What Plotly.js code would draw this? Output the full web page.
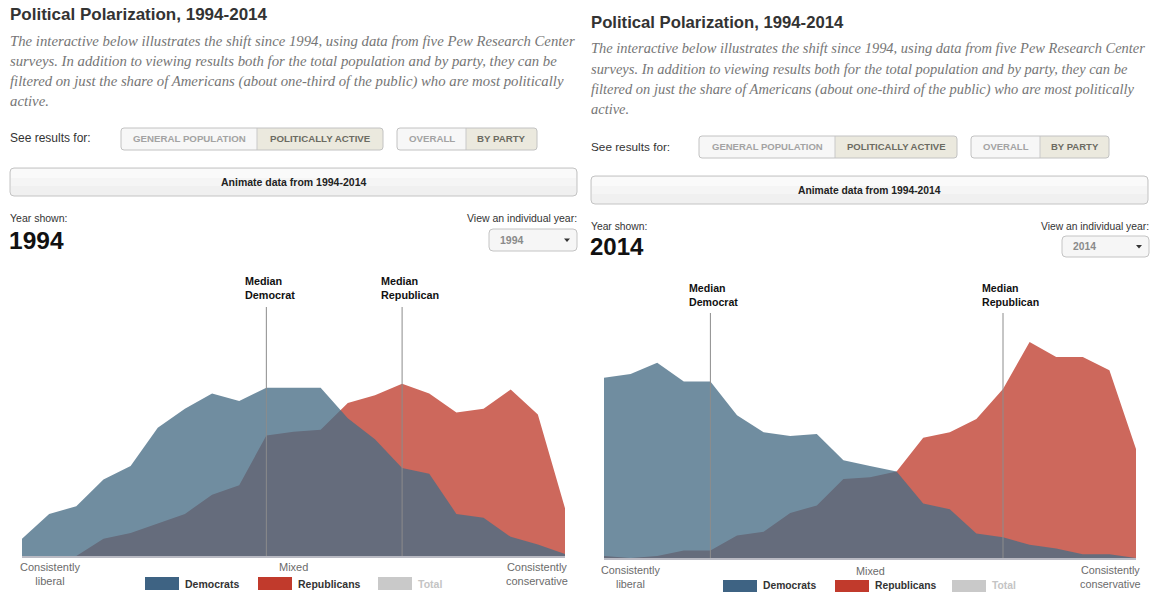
<!DOCTYPE html>
<html>
<head>
<meta charset="utf-8">
<script src="https://cdn.plot.ly/plotly-3.0.1.min.js"></script>
<style>
  html, body { margin: 0; padding: 0; background: #ffffff; }
  #chart { width: 1151px; height: 592px; }
</style>
</head>
<body>
<div id="chart"></div>
<script>
// ---------------- DATA ----------------
// Ideological consistency scale, -10 (consistently liberal) to +10 (consistently conservative)
const scalePoints = [-10,-9,-8,-7,-6,-5,-4,-3,-2,-1,0,1,2,3,4,5,6,7,8,9,10];

// Share (%) of politically active Democrats / Republicans at each scale point
const democrats1994   = [0.9,2.2,2.6,4.0,4.7,6.7,7.7,8.5,8.1,8.8,8.8,8.8,7.2,6.1,4.6,4.3,2.2,2.0,1.0,0.6,0.1];
const republicans1994 = [0.0,0.0,0.0,0.9,1.2,1.7,2.2,3.2,3.7,6.3,6.5,6.6,8.0,8.4,9.0,8.5,7.5,7.7,8.7,7.4,2.5];
const democrats2014   = [9.6,9.8,10.4,9.4,9.4,7.6,6.7,6.5,6.6,5.2,4.9,4.6,2.9,2.6,1.3,1.1,0.7,0.5,0.2,0.2,0.0];
const republicans2014 = [0.1,0.0,0.1,0.4,0.4,1.2,1.4,2.4,2.8,4.2,4.3,4.6,6.4,6.7,7.4,9.0,11.5,10.7,10.7,10.0,5.8];

// Median positions on the scale [Democrat, Republican]
const medians1994 = [-1, 4];
const medians2014 = [-6, 5];
const medianLabels = ['Median<br>Democrat', 'Median<br>Republican'];

const years = ['1994', '2014'];
const axisLabels = ['Consistently<br>liberal', 'Mixed', 'Consistently<br>conservative'];
const legendLabels = ['Democrats', 'Republicans', 'Total'];

const titleText = 'Political Polarization, 1994-2014';
const introLines = [
  'The interactive below illustrates the shift since 1994, using data from five Pew Research Center',
  'surveys. In addition to viewing results both for the total population and by party, they can be',
  'filtered on just the share of Americans (about one-third of the public) who are most politically',
  'active.'
];
const segmentLabelsA = ['GENERAL POPULATION', 'POLITICALLY ACTIVE'];
const segmentLabelsB = ['OVERALL', 'BY PARTY'];
const seeResultsText = 'See results for:';
const animateText = 'Animate data from 1994-2014';
const yearShownText = 'Year shown:';
const viewYearText = 'View an individual year:';

// ---------------- LAYOUT HELPERS ----------------
const W = 1151, H = 592;
const PX = x => x / W;
const PY = y => 1 - y / H;

function rr(x0, y0, x1, y1, r) {
  // r = [tl, tr, br, bl] in pixels
  const [tl, tr, br, bl] = r;
  const p = (x, y) => PX(x) + ',' + PY(y);
  return 'M' + p(x0 + tl, y0) +
    ' L' + p(x1 - tr, y0) + ' Q' + p(x1, y0) + ' ' + p(x1, y0 + tr) +
    ' L' + p(x1, y1 - br) + ' Q' + p(x1, y1) + ' ' + p(x1 - br, y1) +
    ' L' + p(x0 + bl, y1) + ' Q' + p(x0, y1) + ' ' + p(x0, y1 - bl) +
    ' L' + p(x0, y0 + tl) + ' Q' + p(x0, y0) + ' ' + p(x0 + tl, y0) + ' Z';
}

const SANS = 'Liberation Sans, Arial, sans-serif';
const SERIF = 'Liberation Serif, Times New Roman, serif';

const shapes = [];
const annotations = [];

function txt(x, y, text, opts) {
  const o = Object.assign({size: 11, color: '#333', weight: 'normal', family: SANS,
    xanchor: 'left', yanchor: 'middle', align: 'left', style: 'normal'}, opts || {});
  const shift = o.xanchor === 'left' ? -2 : (o.xanchor === 'right' ? 2 : 0);
  annotations.push({
    xref: 'paper', yref: 'paper',
    x: PX(x + shift), y: PY(y),
    text: text, showarrow: false,
    xanchor: o.xanchor, yanchor: o.yanchor, align: o.align,
    font: {family: o.family, size: o.size, color: o.color, weight: o.weight, style: o.style}
  });
}
function pathShape(path, fill, line, layer) {
  shapes.push({type: 'path', xref: 'paper', yref: 'paper', path: path, fillcolor: fill,
    line: line || {width: 0}, layer: layer || 'below'});
}

// Panel geometry (pixel positions of the two screenshots)
const panels = [
  { year: years[0], dem: democrats1994, rep: republicans1994, med: medians1994,
    left: 10, right: 577, dy: 0, xa: 'x', ya: 'y', scale: 1,
    seg: [121, 257, 383, 397, 466, 537], segY: [128, 150],
    anim: [168, 196], drop: [489, 229, 577, 251],
    plot: [22, 565, 556, 300], pxPerUnit: 19.13, medTop: 307, medLab: 287.5,
    labY: [573.5, 567], labX: [50, 293, 537],
    leg: [145, 258, 378], legY: [577, 590], legTxt: 583.5 },
  { year: years[1], dem: democrats2014, rep: republicans2014, med: medians2014,
    left: 591, right: 1148, dy: 8, xa: 'x2', ya: 'y2', scale: 0.982,
    seg: [699, 835, 957, 971, 1040, 1109], segY: [136, 158],
    anim: [176, 204], drop: [1062, 236, 1149, 257],
    plot: [604, 1136, 558, 302], pxPerUnit: 18.78, medTop: 313, medLab: 294.5,
    labY: [577, 571], labX: [630, 870, 1110],
    leg: [723, 835, 952], legY: [580, 592], legTxt: 585.5 }
];

const data = [];
const layout = {
  width: W, height: H, autosize: false,
  margin: {l: 0, r: 0, t: 0, b: 0, pad: 0},
  paper_bgcolor: '#ffffff', plot_bgcolor: 'rgba(0,0,0,0)',
  showlegend: false, hovermode: false,
  font: {family: SANS}
};

panels.forEach((p, i) => {
  const dy = p.dy, s = p.scale;
  // Title
  txt(p.left, 14 + dy, titleText, {size: 17 * s, weight: 'bold', color: '#333'});
  // Intro paragraph
  introLines.forEach((line, k) => {
    txt(p.left, 40.5 + dy + k * 20.3, line, {family: SERIF, style: 'italic', size: 14.75 * s, color: '#767676'});
  });
  // See results for
  txt(p.left, 138 + dy, seeResultsText, {size: 12 * s, color: '#333'});
  // Segmented buttons
  const [a0, a1, a2, b0, b1, b2] = p.seg;
  const [sy0, sy1] = p.segY;
  const rad = 3;
  [[a0, a1, a2, segmentLabelsA], [b0, b1, b2, segmentLabelsB]].forEach(([x0, xm, x1, labels]) => {
    pathShape(rr(x0, sy0, xm, sy1, [rad, 0, 0, rad]), '#f7f7f7');
    pathShape(rr(xm, sy0, x1, sy1, [0, rad, rad, 0]), '#ebe9de');
    shapes.push({type: 'line', x0: PX(xm), x1: PX(xm), y0: PY(sy0), y1: PY(sy1), xref: 'paper', yref: 'paper', line: {color: '#c9c9c9', width: 1}, layer: 'below'});
    pathShape(rr(x0, sy0, x1, sy1, [rad, rad, rad, rad]), 'rgba(0,0,0,0)', {color: '#c2c2c2', width: 1});
    txt((x0 + xm) / 2, (sy0 + sy1) / 2, labels[0], {size: 9.7 * s, weight: 'bold', color: '#a3a3a3', xanchor: 'center', align: 'center'});
    txt((xm + x1) / 2, (sy0 + sy1) / 2, labels[1], {size: 9.7 * s, weight: 'bold', color: '#6b6b62', xanchor: 'center', align: 'center'});
  });
  // Animate button (soft vertical gradient approximated with bands)
  pathShape(rr(p.left, p.anim[0], p.right, p.anim[1], [4, 4, 4, 4]), '#f0f0f0', {color: '#c4c4c4', width: 1});
  pathShape(rr(p.left + 1, p.anim[0] + 1, p.right - 1, p.anim[0] + 18, [3, 3, 0, 0]), '#f5f5f5');
  pathShape(rr(p.left + 1, p.anim[0] + 1, p.right - 1, p.anim[0] + 10, [3, 3, 0, 0]), '#fafafa');
  txt((p.left + p.right) / 2, (p.anim[0] + p.anim[1]) / 2, animateText, {size: 10.5 * s, weight: 'bold', color: '#222', xanchor: 'center', align: 'center'});
  // Year shown
  txt(p.left, 218 + dy, yearShownText, {size: 10.5 * s, color: '#333'});
  txt(p.left - 1, 240 + (i ? 6 : 0), p.year, {size: 24.5 * s, weight: 'bold', color: '#111'});
  // View an individual year + dropdown
  txt(p.drop[2], 218 + dy, viewYearText, {size: 10.5 * s, color: '#333', xanchor: 'right', align: 'right'});
  const [d0, dt, d1, db] = p.drop;
  pathShape(rr(d0, dt, d1, db, [4, 4, 4, 4]), '#f6f6f6', {color: '#c4c4c4', width: 1});
  txt(d0 + 11, (dt + db) / 2, p.year, {size: 10.5 * s, weight: 'bold', color: '#8a8a8a'});
  const cx = d1 - 10, cy = (dt + db) / 2;
  pathShape('M' + PX(cx - 3) + ',' + PY(cy - 1.5) + ' L' + PX(cx + 3) + ',' + PY(cy - 1.5) + ' L' + PX(cx) + ',' + PY(cy + 2) + ' Z', '#333', {width: 0}, 'above');

  // ---- chart ----
  const [cx0, cx1, cyb, cyt] = p.plot;
  const xKey = i ? 'xaxis2' : 'xaxis';
  const yKey = i ? 'yaxis2' : 'yaxis';
  layout[xKey] = {domain: [PX(cx0), PX(cx1)], range: [scalePoints[0], scalePoints[scalePoints.length - 1]],
    anchor: p.ya, showgrid: false, zeroline: false, showticklabels: false, ticks: '',
    showline: true, linecolor: '#b9bac3', linewidth: 1.5, fixedrange: true};
  layout[yKey] = {domain: [PY(cyb), PY(cyt)], range: [0, (cyb - cyt) / p.pxPerUnit],
    anchor: p.xa, visible: false, fixedrange: true};

  data.push({type: 'scatter', x: scalePoints, y: p.rep, xaxis: p.xa, yaxis: p.ya,
    mode: 'lines', fill: 'tozeroy', fillcolor: 'rgb(205,104,92)',
    line: {width: 0, color: 'rgba(0,0,0,0)'}, hoverinfo: 'skip', name: legendLabels[1]});
  data.push({type: 'scatter', x: scalePoints, y: p.dem, xaxis: p.xa, yaxis: p.ya,
    mode: 'lines', fill: 'tozeroy', fillcolor: 'rgba(72,109,133,0.78)',
    line: {width: 0, color: 'rgba(0,0,0,0)'}, hoverinfo: 'skip', name: legendLabels[0]});

  // Median lines + labels
  p.med.forEach((m, k) => {
    shapes.push({type: 'line', xref: p.xa, yref: 'paper', x0: m, x1: m, y0: PY(cyb), y1: PY(p.medTop),
      line: {color: '#8c8c8c', width: 1}, layer: 'above'});
    annotations.push({xref: p.xa, yref: 'paper', x: m, y: PY(p.medLab), xshift: -23,
      text: medianLabels[k], showarrow: false, xanchor: 'left', yanchor: 'middle', align: 'left',
      font: {family: SANS, size: 10.8 * s, weight: 'bold', color: '#111'}});
  });

  // Axis end labels
  txt(p.labX[0], p.labY[0], axisLabels[0], {size: 11 * s, color: '#6b6b6b', xanchor: 'center', align: 'center'});
  txt(p.labX[1], p.labY[1], axisLabels[1], {size: 11 * s, color: '#6b6b6b', xanchor: 'center', align: 'center'});
  txt(p.labX[2], p.labY[0], axisLabels[2], {size: 11 * s, color: '#6b6b6b', xanchor: 'center', align: 'center'});

  // Legend
  const swatchColors = ['#3e6383', '#c13a2c', '#c9c9c9'];
  const textColors = ['#333', '#333', '#c4c4c4'];
  p.leg.forEach((lx, k) => {
    shapes.push({type: 'rect', xref: 'paper', yref: 'paper', x0: PX(lx), x1: PX(lx + 34), y0: PY(p.legY[1]), y1: PY(p.legY[0]),
      fillcolor: swatchColors[k], line: {width: 0}});
    txt(lx + 40, p.legTxt, legendLabels[k], {size: 10.5 * s, weight: 'bold', color: textColors[k]});
  });
});

layout.shapes = shapes;
layout.annotations = annotations;

Plotly.newPlot('chart', data, layout, {staticPlot: true, displayModeBar: false});
</script>
</body>
</html>
